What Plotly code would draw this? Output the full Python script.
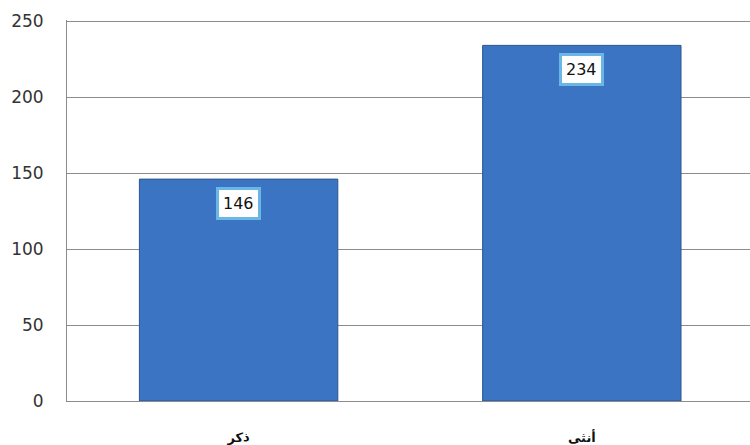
import plotly.graph_objects as go

categories = ["ذكر", "أنثى"]
values = [146, 234]
y_ticks = [0, 50, 100, 150, 200, 250]

fig = go.Figure()
fig.add_trace(go.Bar(
    x=categories,
    y=values,
    marker=dict(color="#3a74c3", line=dict(color="#2a5590", width=1)),
    width=0.578,
    hoverinfo="skip",
))

for c, v in zip(categories, values):
    fig.add_annotation(
        x=c, y=v, yanchor="top", yshift=-8, showarrow=False,
        text=str(v), font=dict(family="DejaVu Sans", size=16, color="#111111"),
        bgcolor="white", bordercolor="#6ab6e4", borderwidth=3, borderpad=4,
    )

fig.update_layout(
    width=750, height=445,
    margin=dict(l=67, r=0, t=20, b=44),
    paper_bgcolor="white", plot_bgcolor="white",
    showlegend=False,
    xaxis=dict(
        range=[-0.5, 1.49],
        showline=True, linecolor="#8c8c8c", linewidth=1,
        showgrid=False, ticks="", ticklabelstandoff=24,
        tickfont=dict(family="DejaVu Sans", size=13, color="#111111", weight="bold"),
    ),
    yaxis=dict(
        range=[0, 250.7], tickvals=y_ticks,
        showline=True, linecolor="#8c8c8c", linewidth=1,
        showgrid=True, gridcolor="#8c8c8c", gridwidth=1,
        ticks="", ticklabelstandoff=19, zeroline=False,
        tickfont=dict(family="DejaVu Sans", size=17, color="#333333"),
    ),
)

fig.write_html("out.html", config={"displayModeBar": False},
               post_script="document.body.style.margin='0';")
